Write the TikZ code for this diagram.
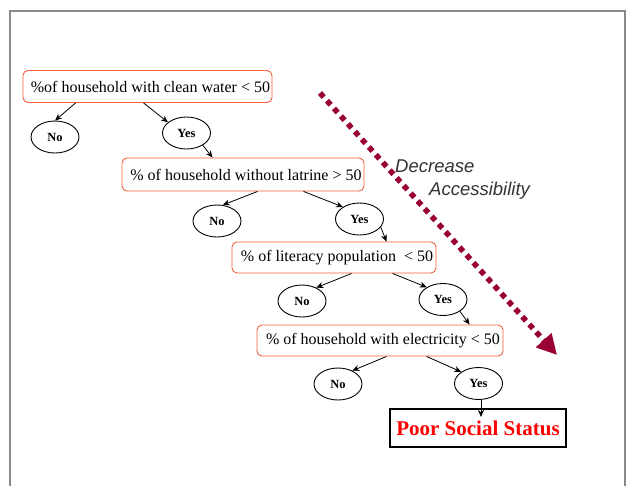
\documentclass[tikz,border=0pt]{standalone}
\usepackage{fontspec}
\setmainfont{Liberation Serif}
\newfontfamily\arialfont{Liberation Sans}
\usetikzlibrary{arrows.meta,shapes.geometric}
\definecolor{boxred}{HTML}{F0603A}
\definecolor{maroonarrow}{HTML}{990033}
\definecolor{framegray}{HTML}{8A8A8A}
\definecolor{labelgray}{HTML}{333333}
\tikzset{
  condbox/.style={draw=boxred, line width=0.9pt, rounded corners=5pt, inner sep=0pt,
    font=\fontsize{16}{18}\selectfont, text=black},
  answer/.style={draw=black, ellipse, line width=0.9pt, inner sep=0pt,
    minimum width=48pt, minimum height=32pt, font=\bfseries\fontsize{12.5}{14}\selectfont},
  link/.style={draw=black, line width=0.8pt, -{Stealth[length=7pt,width=6pt]}},
  result/.style={draw=black, line width=2pt, inner sep=0pt, minimum width=176pt, minimum height=38pt,
    text=red, font=\bfseries\fontsize{21}{24}\selectfont},
  trend/.style={draw=maroonarrow, line width=5.5pt, dash pattern=on 5.5pt off 4.9pt,
    -{Triangle[length=20pt,width=20pt,fill=maroonarrow]}},
  trendlabel/.style={anchor=base west, inner sep=0pt, text=labelgray,
    font=\arialfont\itshape\fontsize{18.5}{20}\selectfont}
}
\begin{document}
\begin{tikzpicture}[x=1pt,y=-1pt]
\useasboundingbox (0,0) rectangle (626,485);
\fill[white] (0,0) rectangle (626,485);
% frame
\draw[framegray, line width=2.5pt] (10,486) -- (10,11) -- (625,11) -- (625,486);

% condition boxes
\node[condbox, minimum width=249pt, minimum height=32pt] (b1) at (147.5,86.5) {\hspace*{6pt}\%of household with clean water < 50};
\node[condbox, minimum width=242pt, minimum height=33pt] (b2) at (243,174.5) {\hspace*{6pt}\% of household without latrine > 50};
\node[condbox, minimum width=204pt, minimum height=31pt] (b3) at (334,257.5) {\hspace*{6pt}\% of literacy population \ < 50};
\node[condbox, minimum width=246pt, minimum height=31pt] (b4) at (380,340.5) {\hspace*{6pt}\% of household with electricity < 50};

% answers
\node[answer] (n1) at (55,137) {No};
\node[answer] (y1) at (186.5,133) {Yes};
\node[answer] (n2) at (217,221) {No};
\node[answer] (y2) at (359.5,219) {Yes};
\node[answer] (n3) at (302,301) {No};
\node[answer] (y3) at (443,299.5) {Yes};
\node[answer] (n4) at (338,384) {No};
\node[answer] (y4) at (478.5,383.5) {Yes};

\node[result] (poor) at (478,428) {Poor Social Status};

% connectors
\draw[link] ([xshift=53pt]b1.south west) -- (n1.north);
\draw[link] ([xshift=121pt]b1.south west) -- (y1.150);
\draw[link] (y1.-37) -- ([xshift=91pt]b2.north west);

\draw[link] ([xshift=136pt]b2.south west) -- (n2.70);
\draw[link] ([xshift=182pt]b2.south west) -- (y2.144);
\draw[link] (y2.-21) -- ([xshift=155pt]b3.north west);

\draw[link] ([xshift=120pt]b3.south west) -- (n3.43);
\draw[link] ([xshift=161pt]b3.south west) -- (y3.143);
\draw[link] (y3.-35) -- ([xshift=213pt]b4.north west);

\draw[link] ([xshift=130pt]b4.south west) -- (n4.43);
\draw[link] ([xshift=170pt]b4.south west) -- (y4.146);
\draw[link] ([xshift=2.5pt]y4.south) -- ([xshift=3pt,yshift=-9pt]poor.north);

% decreasing accessibility arrow
\coordinate (ts) at (320,93);
\coordinate (te) at (557,355);
\draw[trend] (ts) -- (te);
\node[trendlabel] (dec) at (395,172) {Decrease};
\node[trendlabel] (acc) at (429,195) {Accessibility};
\end{tikzpicture}
\end{document}
